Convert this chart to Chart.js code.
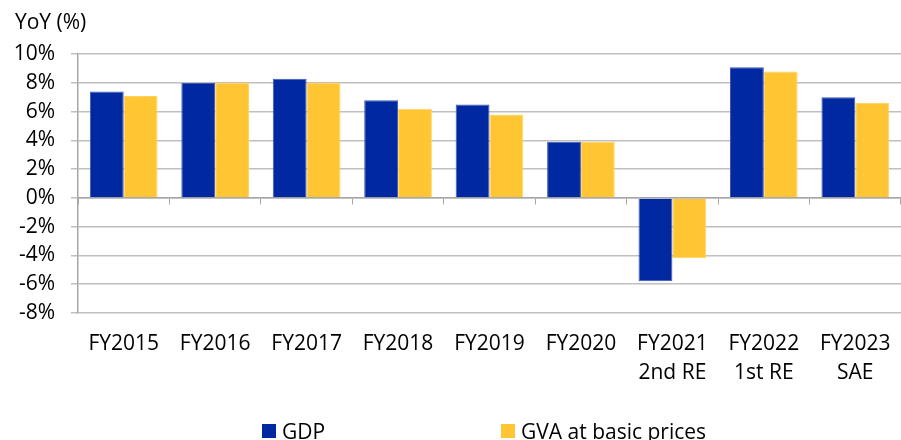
<!DOCTYPE html>
<html>
<head>
<meta charset="utf-8">
<script src="https://cdn.jsdelivr.net/npm/chart.js@4.4.1/dist/chart.umd.min.js"></script>
<style>
    html, body { margin: 0; padding: 0; background: #fff; }
    #wrap { position: relative; width: 901px; height: 440px; overflow: hidden; }
    #growth-chart { position: absolute; left: 0; top: 0; }
    #legend { position: absolute; left: 262px; top: 417px; display: flex; font-family: 'Open Sans', sans-serif; font-size: 21px; color: #000; }
    #legend .item { display: flex; align-items: center; }
    #legend .item:first-child { width: 239px; }
    #legend .box { width: 14px; height: 14px; margin-right: 6px; }
</style>
</head>
<body>
<div id="wrap">
    <canvas id="growth-chart" width="901" height="440"></canvas>
    <div id="legend"></div>
</div>
<script>
// Real growth, YoY %
const years = [
    'FY2015', 'FY2016', 'FY2017', 'FY2018', 'FY2019', 'FY2020',
    ['FY2021', '2nd RE'], ['FY2022', '1st RE'], ['FY2023', 'SAE']
];
const gdp = [7.4, 8.0, 8.3, 6.8, 6.5, 3.9, -5.8, 9.1, 7.0];
const gva = [7.1, 8.0, 8.0, 6.2, 5.8, 3.9, -4.2, 8.8, 6.6];
const yTicks = [-8, -6, -4, -2, 0, 2, 4, 6, 8, 10];

const seriesNames = ['GDP', 'GVA at basic prices'];
const seriesColors = ['#0028a0', '#ffc532'];
const seriesBorders = ['#3d58b8', '#ffd45e'];

Chart.defaults.font.family = "'Open Sans', sans-serif";
Chart.defaults.color = '#000';

const gridColor = '#bfbfbf';
const axisColor = '#a6a6a6';

const ctx = document.getElementById('growth-chart').getContext('2d');
const chart = new Chart(ctx, {
    type: 'bar',
    data: {
        labels: years,
        datasets: [gdp, gva].map((values, i) => ({
            label: seriesNames[i],
            data: values,
            backgroundColor: seriesColors[i],
            borderColor: seriesBorders[i],
            borderWidth: 1,
            borderSkipped: 'start',
            categoryPercentage: 0.74,
            barPercentage: 1.0
        }))
    },
    options: {
        responsive: false,
        animation: false,
        layout: { padding: { left: 15, right: -2, top: 0, bottom: 36 } },
        plugins: {
            legend: { display: false },
            tooltip: { enabled: false },
            title: {
                display: true,
                text: 'YoY (%)',
                align: 'start',
                color: '#000',
                font: { size: 21, weight: 'normal', lineHeight: 1.2 },
                padding: { top: 10, bottom: 19 }
            }
        },
        scales: {
            x: {
                grid: { display: false, drawTicks: false },
                border: { display: false },
                ticks: {
                    font: { size: 21, lineHeight: 1.36 },
                    padding: 17,
                    maxRotation: 0,
                    autoSkip: false
                },
                afterFit: axis => { axis.paddingLeft = 0; axis.paddingRight = 0; }
            },
            // zero line with the category tick marks hanging below it
            zero: {
                type: 'category',
                axis: 'x',
                position: { y: 0 },
                grid: { drawOnChartArea: false, offset: true, tickLength: 6, color: axisColor },
                border: { color: axisColor, width: 1.5 },
                ticks: { display: false }
            },
            y: {
                min: yTicks[0],
                max: yTicks[yTicks.length - 1],
                afterBuildTicks: axis => { axis.ticks = yTicks.map(v => ({ value: v })); },
                afterFit: axis => { axis.width = 63; },
                grid: { color: gridColor, lineWidth: 1.5, tickLength: 7 },
                border: { color: axisColor, width: 1.5 },
                ticks: {
                    font: { size: 21 },
                    padding: 16,
                    callback: v => v + '%'
                }
            }
        }
    }
});

// Legend built from the chart's datasets
const legend = document.getElementById('legend');
chart.data.datasets.forEach(ds => {
    const item = document.createElement('div');
    item.className = 'item';
    item.innerHTML = `<span class="box" style="background:${ds.backgroundColor}"></span><span>${ds.label}</span>`;
    legend.appendChild(item);
});
</script>
</body>
</html>
